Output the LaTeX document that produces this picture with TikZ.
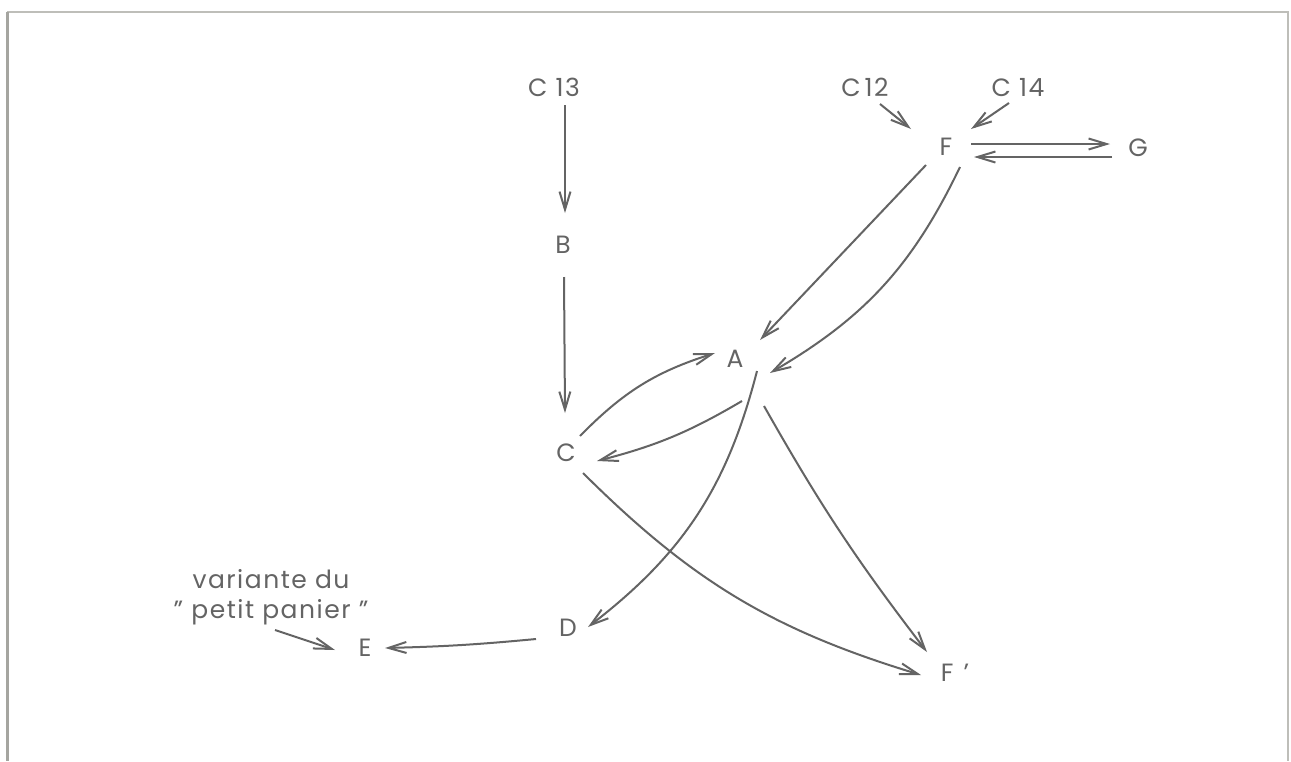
\documentclass[tikz,border=0pt]{standalone}
\usepackage{fontspec}
\setmainfont{Poppins}[LetterSpace=6]
\usetikzlibrary{arrows.meta,calc}
\definecolor{ink}{RGB}{100,100,100}
\definecolor{frameline}{RGB}{190,190,185}
\definecolor{frameleft}{RGB}{165,165,160}

\begin{document}
\begin{tikzpicture}[x=0.5pt,y=-0.5pt,
  lbl/.style={text=ink,font=\fontsize{12.5}{15}\selectfont,inner sep=0pt},
  arr/.style={draw=ink,line width=1pt,-{Straight Barb[length=9pt,width=5.5pt]}}]
\useasboundingbox (0,0) rectangle (1291,761);
\fill[white] (0,0) rectangle (1291,761);
% page frame
\draw[frameline,line width=1pt] (7,12) -- (1288,12) -- (1288,761);
\draw[frameleft,line width=1.5pt] (7,12) -- (7,761);

% labels
\node[lbl] (c13) at (554,87) {C 13};
\node[lbl] (b) at (563,245) {B};
\node[lbl] (c) at (566,453) {C};
\node[lbl] (a) at (735,359) {A};
\node[lbl] (c12) at (865,87) {C\kern2pt12};
\node[lbl] (c14) at (1018,88) {C 14};
\node[lbl] (f) at (946,147) {F};
\node[lbl] (g) at (1138,148) {G};
\node[lbl] (d) at (568,628) {D};
\node[lbl] (e) at (365,648) {E};
\node[lbl] (fp) at (955,673) {F\kern5pt’};
\node[lbl,align=center] (var) at (271,597) {variante du\\” petit panier ”};

% connectors
\draw[arr] ($(c13)+(11,18)$) -- ($(b)+(2,-32)$);
\draw[arr] ($(b)+(1,32)$) -- ($(c)+(-1,-40)$);
\draw[arr] ($(c12)+(15,17)$) -- ($(f)+(-35,-18)$);
\draw[arr] ($(c14)+(-9,15)$) -- ($(f)+(25,-18)$);
\draw[arr] ($(f)+(25,-3)$) -- ($(g)+(-28,-4)$);
\draw[arr] ($(g)+(-26,9)$) -- ($(f)+(28,10)$);
\draw[arr] ($(f)+(-20,18)$) -- ($(a)+(25,-19)$);
\draw[arr] ($(f)+(14,20)$) to[bend left=17] ($(a)+(35,14)$);
\draw[arr] ($(c)+(14,-17)$) to[bend left=14] ($(a)+(-20,-6)$);
\draw[arr] ($(a)+(7,42)$) to[bend left=8] ($(c)+(31,8)$);
\draw[arr] ($(a)+(22,12)$) to[bend left=19] ($(d)+(20,-1)$);
\draw[arr] ($(a)+(29,47)$) to[bend right=4] ($(fp)+(-28,-21)$);
\draw[arr] ($(c)+(17,20)$) to[bend right=14] ($(fp)+(-34,2)$);
\draw[arr] ($(d)+(-32,11)$) to[bend left=2] ($(e)+(20,0)$);
\draw[arr] ($(var)+(4,33)$) -- ($(e)+(-30,2)$);
\end{tikzpicture}
\end{document}
